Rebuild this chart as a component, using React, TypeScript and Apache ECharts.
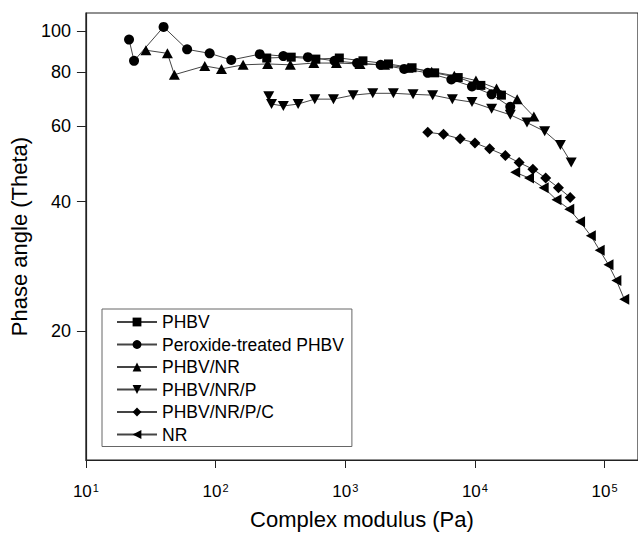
import React, { useEffect, useRef } from 'react';
import * as echarts from 'echarts';

const xTicks = [10, 100, 1000, 10000, 100000];
const yTicks = [20, 40, 60, 80, 100];

const seriesNames = ['PHBV', 'Peroxide-treated PHBV', 'PHBV/NR', 'PHBV/NR/P', 'PHBV/NR/P/C', 'NR'];

const phbvX = [248, 383, 593, 900, 1369, 2154, 3275, 4891, 7432, 11110, 16010];
const phbvY = [86.4, 86.8, 85.9, 86.4, 85.1, 83.7, 82.0, 79.8, 77.8, 74.6, 70.8];

const peroxX = [21.5, 23.5, 39.7, 60.3, 90, 132, 219, 333, 515, 826, 1233, 1874, 2848, 4329, 6580, 9490, 13450, 18740];
const peroxY = [95.4, 85.1, 102.1, 90.5, 88.6, 85.5, 88.2, 87.3, 86.8, 85.1, 84.1, 83.3, 81.5, 79.8, 77.0, 74.2, 71.1, 66.5];

const nrBlendX = [29.0, 42.5, 48.1, 82.5, 111, 163, 252, 377, 572, 855, 1299, 2009, 3052, 4642, 6934, 10180, 14680, 21180, 28480];
const nrBlendY = [90.1, 88.6, 79.0, 82.8, 81.5, 83.3, 83.7, 83.3, 84.1, 84.1, 83.7, 83.3, 82.0, 80.3, 78.6, 76.6, 73.4, 69.3, 63.1];

const nrPX = [257, 270, 333, 433, 582, 811, 1150, 1630, 2350, 3333, 4723, 6697, 9490, 13450, 18740, 25210, 34510, 45620, 55260];
const nrPY = [70.4, 67.5, 66.8, 67.5, 69.3, 69.3, 70.8, 71.5, 71.5, 71.1, 70.8, 69.3, 68.2, 65.8, 63.7, 61.1, 58.3, 54.2, 49.3];

const nrPCX = [4329, 5724, 7697, 10000, 12990, 17170, 21930, 27990, 35130, 44050, 54300];
const nrPCY = [58.0, 57.4, 56.0, 54.8, 53.1, 51.2, 49.3, 47.6, 45.4, 43.1, 40.9];

const nrX = [20450, 26110, 33910, 42550, 53370, 64670, 78320, 91650, 107200, 123300, 141800];
const nrY = [46.8, 45.4, 43.1, 40.4, 38.4, 35.9, 33.3, 30.8, 28.5, 26.2, 23.7];

const zip = (xs: number[], ys: number[]) => xs.map((x, i) => [x, ys[i]]);

const FONT = '"Liberation Sans", Arial, sans-serif';

export default function App() {
  const ref = useRef<HTMLDivElement>(null);
  useEffect(() => {
    if (!ref.current) return;
    const chart = echarts.init(ref.current, null, { renderer: 'svg' });
    const mk = (name: string, data: number[][], symbol: string, size: any, rotate = 0) => ({
      name,
      type: 'line',
      data,
      symbol,
      symbolSize: size,
      symbolRotate: rotate,
      showSymbol: true,
      lineStyle: { color: '#444', width: 1 },
      itemStyle: { color: '#000', borderWidth: 0 },
      emphasis: { disabled: true },
    });
    chart.setOption({
      animation: false,
      backgroundColor: '#fff',
      textStyle: { fontFamily: FONT },
      grid: { left: 78, top: 13, width: 562, height: 459, show: true, borderColor: '#222', borderWidth: 1.2, backgroundColor: 'transparent' },
      legend: {
        orient: 'vertical',
        left: 102,
        top: 309,
        padding: [4, 8, 3, 14],
        itemWidth: 40,
        itemHeight: 11,
        itemGap: 4.5,
        borderColor: '#666',
        borderWidth: 1,
        backgroundColor: '#fff',
        textStyle: { fontFamily: FONT, fontSize: 17.5, color: '#000' },
        data: seriesNames,
      },
      xAxis: {
        type: 'log',
        logBase: 10,
        min: 10,
        max: 181000,
        name: 'Complex modulus (Pa)',
        nameLocation: 'middle',
        nameGap: 48,
        nameTextStyle: { fontFamily: FONT, fontSize: 22, color: '#000' },
        axisLine: { show: true, lineStyle: { color: '#222', width: 1.2 } },
        axisTick: { show: true, inside: false, length: 8, customValues: xTicks, lineStyle: { color: '#222' } },
        minorTick: { show: false },
        splitLine: { show: false },
        axisLabel: {
          customValues: xTicks,
          margin: 22,
          color: '#000',
          fontFamily: FONT,
          fontSize: 17,
          formatter: (v: number) => `10{s|${Math.round(Math.log10(v))}}`,
          rich: { s: { fontSize: 11, fontFamily: FONT, color: '#000', verticalAlign: 'top', padding: [0, 0, 8, 1] } },
        },
      },
      yAxis: {
        type: 'log',
        logBase: 10,
        min: 10,
        max: 110,
        name: 'Phase angle (Theta)',
        nameLocation: 'middle',
        nameGap: 46,
        nameTextStyle: { fontFamily: FONT, fontSize: 22, color: '#000' },
        axisLine: { show: true, lineStyle: { color: '#222', width: 1.2 } },
        axisTick: { show: true, inside: false, length: 9, customValues: yTicks, lineStyle: { color: '#222' } },
        minorTick: { show: false },
        splitLine: { show: false },
        axisLabel: { customValues: yTicks, margin: 15, color: '#000', fontFamily: FONT, fontSize: 18 },
      },
      series: [
        mk(seriesNames[0], zip(phbvX, phbvY), 'rect', 9),
        mk(seriesNames[1], zip(peroxX, peroxY), 'circle', 10),
        mk(seriesNames[2], zip(nrBlendX, nrBlendY), 'triangle', [11, 10]),
        mk(seriesNames[3], zip(nrPX, nrPY), 'triangle', [11, 10], 180),
        mk(seriesNames[4], zip(nrPCX, nrPCY), 'diamond', [11, 11]),
        mk(seriesNames[5], zip(nrX, nrY), 'triangle', [11, 10], 90),
      ],
    });
    return () => chart.dispose();
  }, []);
  return <div ref={ref} style={{ position: 'fixed', left: 0, top: 0, width: 638, height: 535 }} />;
}
